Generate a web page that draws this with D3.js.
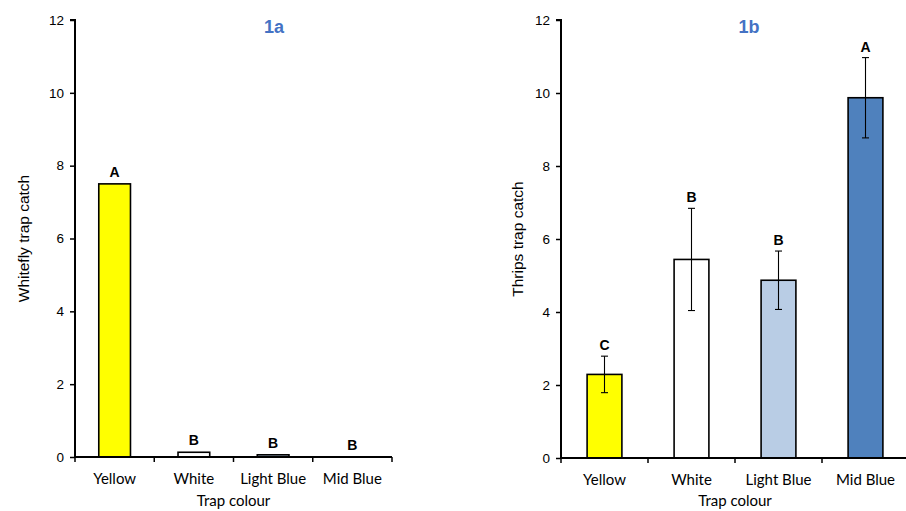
<!DOCTYPE html>
<html><head><meta charset="utf-8">
<script src="https://cdn.jsdelivr.net/npm/d3@7"></script>
<style>body{margin:0;background:#fff}svg{display:block}</style>
</head><body>
<svg id="c" width="906" height="511"></svg>
<script>
const categories = ["Yellow","White","Light Blue","Mid Blue"];
const barColors = ["#FFFF00","#FFFFFF","#B9CDE5","#4F81BD"];
const yTicks = [0,2,4,6,8,10,12];
const whiteflyMeans = [7.5, 0.13, 0.06, 0];
const whiteflyLetters = ["A","B","B","B"];
const thripsMeans = [2.29, 5.44, 4.87, 9.87];
const thripsErr = [0.5, 1.4, 0.8, 1.1];
const thripsLetters = ["C","B","B","A"];

const svg = d3.select("#c");

function panel(o){
  const g = svg.append("g");
  const x = d3.scaleBand().domain(categories).range([o.x0, o.x1]).paddingInner(0).paddingOuter(0);
  const y = d3.scaleLinear().domain([0,12]).range([o.yb, o.yt]);
  const bw = x.bandwidth()*0.4;
  g.selectAll("rect.bar").data(categories).enter().append("rect")
    .attr("x", d=>x(d)+x.bandwidth()/2-bw/2)
    .attr("y", (d,i)=>y(o.means[i]))
    .attr("width", bw)
    .attr("height", (d,i)=>y(0)-y(o.means[i]))
    .attr("fill", (d,i)=>barColors[i])
    .attr("stroke", (d,i)=>o.means[i]>0?"#000":"none")
    .attr("stroke-width", 1.6);
  if (o.err){
    categories.forEach((d,i)=>{
      const cx = x(d)+x.bandwidth()/2;
      const hi = y(o.means[i]+o.err[i]), lo = y(o.means[i]-o.err[i]);
      g.append("line").attr("x1",cx).attr("x2",cx).attr("y1",hi).attr("y2",lo).attr("stroke","#000").attr("stroke-width",1.1);
      [hi,lo].forEach(yy=>g.append("line").attr("x1",cx-3.5).attr("x2",cx+3.5).attr("y1",yy).attr("y2",yy).attr("stroke","#000").attr("stroke-width",1.1));
    });
  }
  categories.forEach((d,i)=>{
    const top = o.err ? o.means[i]+o.err[i] : o.means[i];
    g.append("text").attr("x", x(d)+x.bandwidth()/2).attr("y", y(top)-(o.err?6:7))
      .attr("text-anchor","middle").attr("font-family","Liberation Sans, Arial, sans-serif")
      .attr("font-weight","bold").attr("font-size","14px").text(o.letters[i]);
  });
  const ya = g.append("g").attr("transform",`translate(${o.x0},0)`)
    .call(d3.axisLeft(y).tickValues(yTicks).tickSize(5).tickPadding(6).tickFormat(d3.format("d")));
  ya.select(".domain").attr("stroke-width",2).attr("d",`M-5,${o.yt}H0V${o.yb}`);
  ya.selectAll(".tick line").attr("stroke-width",1.5);
  ya.selectAll("text").attr("font-family","Liberation Sans, Arial, sans-serif").attr("font-size","13.5px").attr("fill","#000");
  const xg = g.append("g");
  xg.append("line").attr("x1",o.x0).attr("x2",o.xEnd).attr("y1",y(0)).attr("y2",y(0)).attr("stroke","#000").attr("stroke-width",2);
  const bounds = categories.map(d=>x(d)).concat([x(categories[3])+x.bandwidth()]);
  bounds.forEach(b=>{ if (b<=o.xEnd) xg.append("line").attr("x1",b).attr("x2",b).attr("y1",y(0)).attr("y2",y(0)+5).attr("stroke","#000").attr("stroke-width",1.5); });
  categories.forEach(d=>{
    xg.append("text").attr("x",x(d)+x.bandwidth()/2).attr("y",y(0)+27).attr("text-anchor","middle")
      .attr("font-family","Lato, Carlito, sans-serif").attr("font-size","15px").text(d);
  });
  g.append("text").attr("x",(o.x0+o.x1)/2).attr("y",506).attr("text-anchor","middle")
    .attr("font-family","Lato, Carlito, sans-serif").attr("font-size","15px").text("Trap colour");
  g.append("text").attr("transform",`translate(${o.ylabX},${(o.yt+o.yb)/2}) rotate(-90)`)
    .attr("text-anchor","middle").attr("font-family","Liberation Sans, Arial, sans-serif").attr("font-size","15.5px").text(o.ylab);
  g.append("text").attr("x",o.titleX).attr("y",33).attr("text-anchor","middle")
    .attr("font-family","Liberation Sans, Arial, sans-serif").attr("font-weight","bold").attr("font-size","18px")
    .attr("fill","#4472C4").text(o.title);
}

panel({x0:75, x1:392, xEnd:392, yb:457, yt:20, means:whiteflyMeans, letters:whiteflyLetters, ylab:"Whitefly trap catch", ylabX:29, title:"1a", titleX:274});
panel({x0:561, x1:909, xEnd:906, yb:458, yt:20, means:thripsMeans, err:thripsErr, letters:thripsLetters, ylab:"Thrips trap catch", ylabX:523, title:"1b", titleX:749});
</script>
</body></html>
